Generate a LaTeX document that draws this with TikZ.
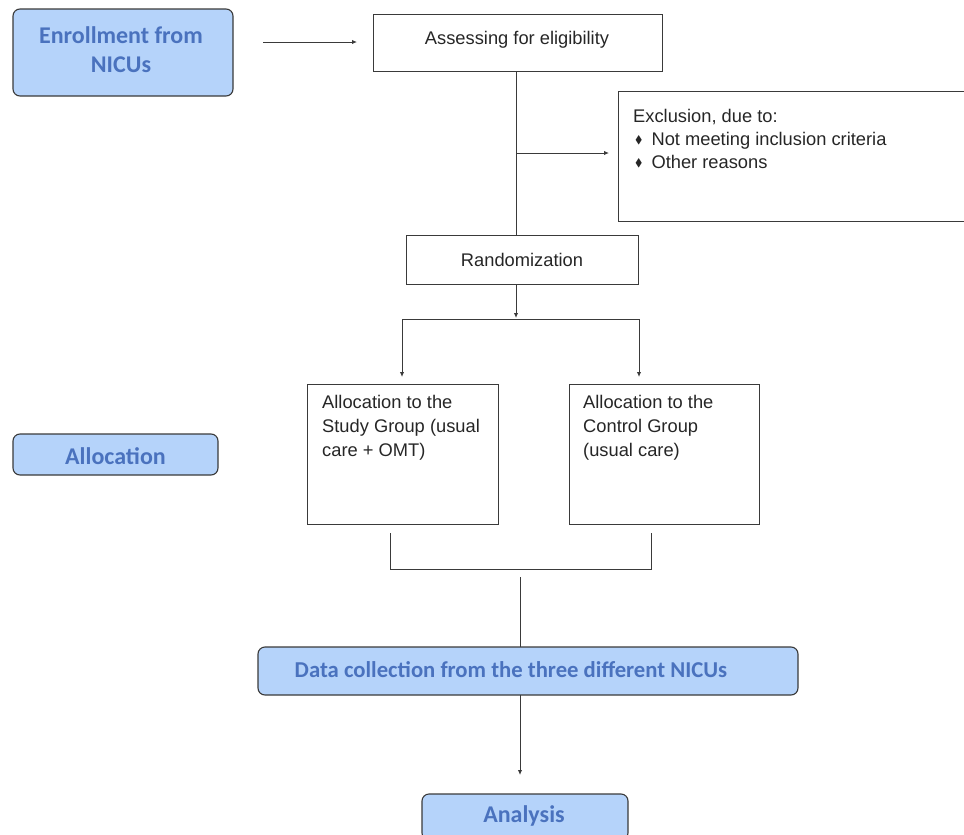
\documentclass[tikz,border=0pt]{standalone}
\usepackage{amssymb}
\usepackage{fontspec}
\setmainfont{Liberation Sans}
\newfontfamily\calfont{Carlito}
\usetikzlibrary{arrows.meta,positioning}
\definecolor{bluefill}{HTML}{B5D3FA}
\definecolor{bluetext}{HTML}{4A72BE}
\definecolor{edge}{HTML}{3A3A3A}
\tikzset{
  phase/.style={draw=edge, line width=1.1pt, fill=bluefill, rounded corners=7pt},
  phasetext/.style={text=bluetext, font=\calfont\bfseries\fontsize{24}{29}\selectfont, align=center, inner sep=0pt},
  plain/.style={draw=edge, line width=1pt},
  plaintext/.style={font=\fontsize{18.3}{22}\selectfont, text=black!85, inner sep=0pt},
  lbl/.style={font=\fontsize{18.3}{24}\selectfont, align=left, inner sep=0pt, anchor=north west, text=black!85},
  conn/.style={draw=edge, line width=1pt},
  arr/.style={conn, -{Latex[length=5pt,width=4.5pt]}}
}
\newcommand{\bul}{\hspace*{2pt}{\fontsize{11}{11}\selectfont\raisebox{2pt}{$\blacklozenge$}}\hspace{9pt}}
\begin{document}
\begin{tikzpicture}[x=1pt,y=-1pt]
\useasboundingbox (0,0) rectangle (964,835);
% blue phase boxes
\draw[phase] (13,9) rectangle (233,96);
\node[phasetext] (enr) at (121,50) {Enrollment from\\NICUs};
\draw[phase] (13,434) rectangle (218,475);
\node[phasetext] (alloc) at (115.5,456) {Allocation};
\draw[phase] (258,647) rectangle (798,695);
\node[phasetext, font=\calfont\bfseries\fontsize{22.7}{27}\selectfont] (data) at (511,670) {Data collection from the three different NICUs};
\draw[phase] (422,794) rectangle (628,840);
\node[phasetext] (ana) at (524,816) {Analysis};

% plain boxes
\draw[plain] (373,14) rectangle (662,71);
\node[plaintext] (assess) at (517,40) {Assessing for eligibility};
\draw[plain] (618,91) rectangle (990,221);
\node[lbl] (excl) at (633,109) {Exclusion, due to:\\[-1pt]
  \bul Not meeting inclusion criteria\\[-1pt]
  \bul Other reasons};
\draw[plain] (406,235) rectangle (638,284);
\node[plaintext] (rand) at (522,260) {Randomization};
\draw[plain] (307,384) rectangle (498,524);
\node[lbl] (study) at (322,395) {Allocation to the\\Study Group (usual\\care + OMT)};
\draw[plain] (569,384) rectangle (759,524);
\node[lbl] (ctrl) at (583,395) {Allocation to the\\Control Group\\(usual care)};

% connectors
\coordinate (a1) at (263,42);
\coordinate (a2) at (357,42);
\draw[arr] (a1) -- (a2);
\coordinate (v0) at (516,71);
\coordinate (v1) at (516,153);
\coordinate (v2) at (516,235);
\coordinate (e1) at (609,153);
\draw[conn] (v0) -- (v2);
\draw[arr] (v1) -- (e1);
\coordinate (r0) at (516,284);
\coordinate (r1) at (516,318);
\draw[arr] (r0) -- (r1);
\coordinate (hl) at (402,319);
\coordinate (hr) at (639,319);
\coordinate (dl) at (402,377);
\coordinate (dr) at (639,377);
\draw[conn] (hl) -- (hr);
\draw[arr] (hl) -- (dl);
\draw[arr] (hr) -- (dr);
% bottom bracket
\coordinate (bl) at (390,533);
\coordinate (bl2) at (390,569);
\coordinate (br) at (651,533);
\coordinate (br2) at (651,569);
\draw[conn] (bl) -- (bl2) -- (br2) -- (br);
\coordinate (c0) at (520,577);
\coordinate (c1) at (520,647);
\draw[conn] (c0) -- (c1);
\coordinate (d0) at (520,695);
\coordinate (d1) at (520,775);
\draw[arr] (d0) -- (d1);
\end{tikzpicture}
\end{document}
